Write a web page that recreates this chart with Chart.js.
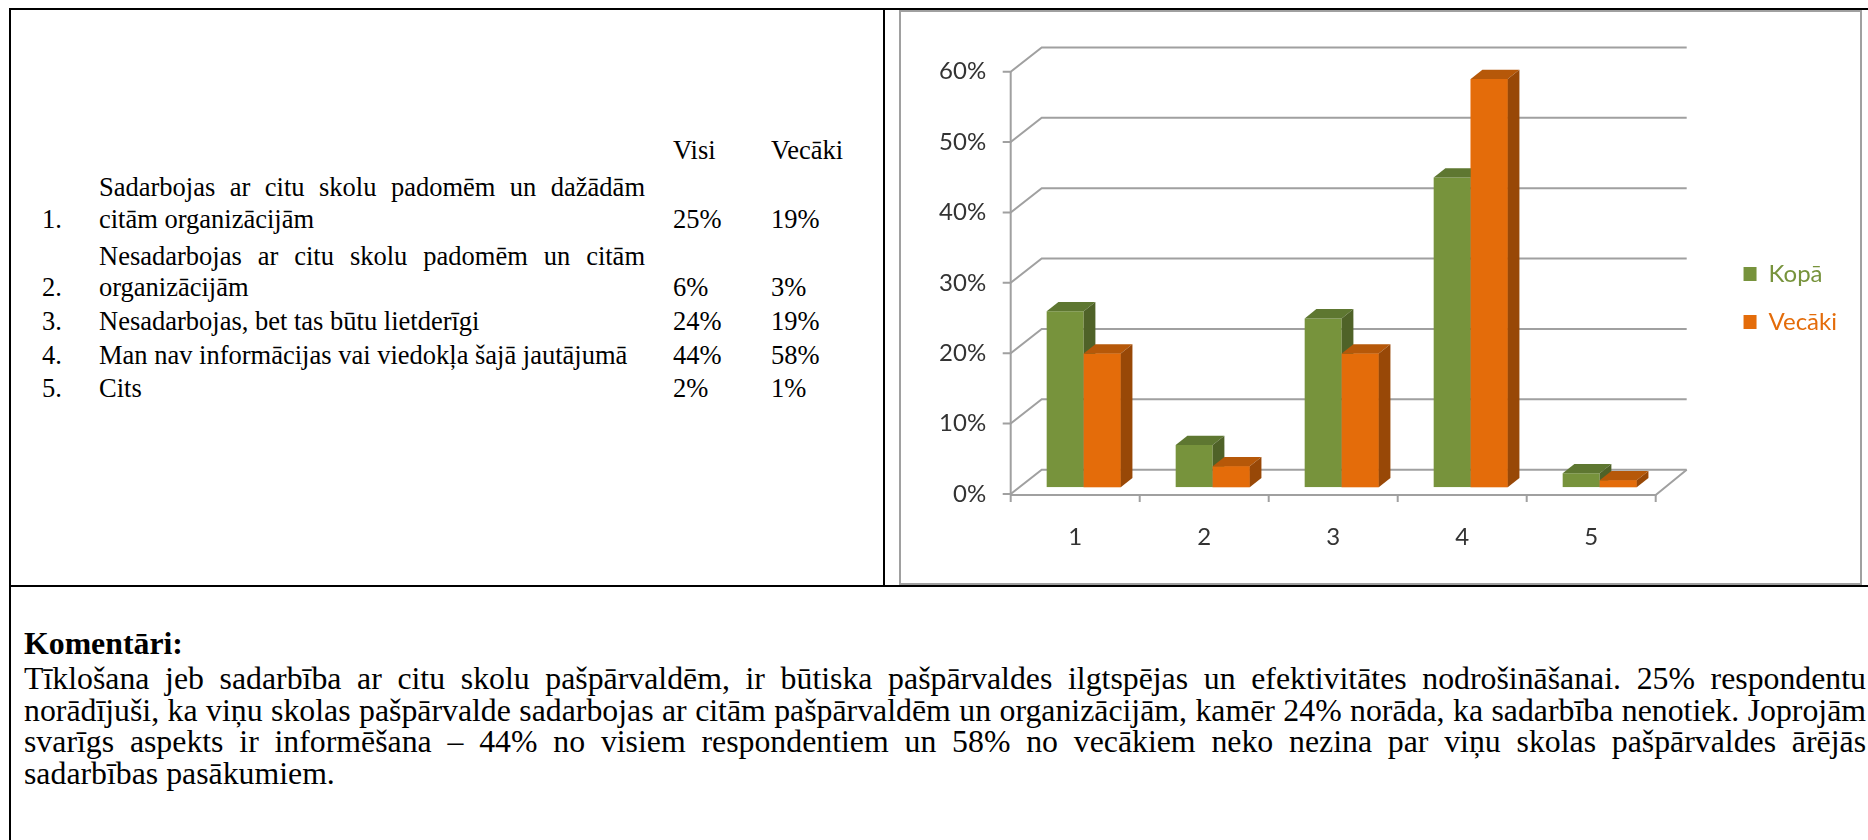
<!DOCTYPE html>
<html><head><meta charset="utf-8">
<script src="https://cdn.jsdelivr.net/npm/chart.js@4/dist/chart.umd.min.js"></script>
<style>
html,body{margin:0;padding:0;background:#fff;width:1868px;height:840px;overflow:hidden;position:relative;}
.ln{position:absolute;background:#000;}
.t{position:absolute;font-family:"Liberation Serif","Times New Roman",serif;font-size:26.5px;line-height:34px;height:34px;white-space:nowrap;color:#000;}
.j{text-align:justify;text-align-last:justify;white-space:normal;overflow:visible;}
.p{position:absolute;left:24px;width:1842px;font-family:"Liberation Serif","Times New Roman",serif;font-size:31.8px;line-height:32px;white-space:nowrap;color:#000;}
.pj{text-align:justify;text-align-last:justify;white-space:normal;}
#frame{position:absolute;left:899px;top:10px;width:963px;height:575px;box-sizing:border-box;border:2px solid #a0a0a0;}
#c{position:absolute;left:901px;top:12px;width:959px;height:572px;}
</style></head><body>
<div class="ln" style="left:9px;top:8px;width:1859px;height:2px"></div>
<div class="ln" style="left:9px;top:8px;width:2px;height:832px"></div>
<div class="ln" style="left:883px;top:8px;width:2px;height:579px"></div>
<div class="ln" style="left:9px;top:585px;width:1859px;height:2px"></div>
<div id="frame"></div>
<canvas id="c" width="959" height="572"></canvas>
<div id="tbl"></div>
<div id="com"></div>
<script>
// ---- data ----
const categories = ['1', '2', '3', '4', '5'];
const seriesNames = ['Kopā', 'Vecāki'];
const kopa = [25, 6, 24, 44, 2];
const vecaki = [19, 3, 19, 58, 1];
const yTicks = [0, 10, 20, 30, 40, 50, 60];
const tableHeader = ['Visi', 'Vecāki'];
const rowTexts = [
  ['Sadarbojas ar citu skolu padomēm un dažādām', 'citām organizācijām'],
  ['Nesadarbojas ar citu skolu padomēm un citām', 'organizācijām'],
  ['Nesadarbojas, bet tas būtu lietderīgi'],
  ['Man nav informācijas vai viedokļa šajā jautājumā'],
  ['Cits']
];
const commentTitle = 'Komentāri:';
const commentLines = [
  'Tīklošana jeb sadarbība ar citu skolu pašpārvaldēm, ir būtiska pašpārvaldes ilgtspējas un efektivitātes nodrošināšanai. 25% respondentu',
  'norādījuši, ka viņu skolas pašpārvalde sadarbojas ar citām pašpārvaldēm un organizācijām, kamēr 24% norāda, ka sadarbība nenotiek. Joprojām',
  'svarīgs aspekts ir informēšana – 44% no visiem respondentiem un 58% no vecākiem neko nezina par viņu skolas pašpārvaldes ārējās',
  'sadarbības pasākumiem.'
];

// ---- layout (positions) ----
const rowLineY = [[188, 220], [257, 288], [322], [356], [389]];
const headerY = 151;
const colNum = 42, colText = 99, colVisi = 673, colVec = 771, textRight = 645;

function addText(parent, txt, x, yc, cls, extra) {
  const d = document.createElement('div');
  d.className = cls;
  d.textContent = txt;
  d.style.left = x + 'px';
  d.style.top = (yc - 18) + 'px';
  if (extra) Object.assign(d.style, extra);
  parent.appendChild(d);
  return d;
}
const tbl = document.getElementById('tbl');
addText(tbl, tableHeader[0], colVisi, headerY, 't');
addText(tbl, tableHeader[1], colVec, headerY, 't');
rowTexts.forEach((lines, i) => {
  const ys = rowLineY[i];
  lines.forEach((ln, k) => {
    const justify = k < lines.length - 1;
    addText(tbl, ln, colText, ys[k], justify ? 't j' : 't', justify ? {width: (textRight - colText) + 'px'} : null);
  });
  const yl = ys[ys.length - 1];
  addText(tbl, (i + 1) + '.', colNum, yl, 't');
  addText(tbl, kopa[i] + '%', colVisi, yl, 't');
  addText(tbl, vecaki[i] + '%', colVec, yl, 't');
});

const com = document.getElementById('com');
const comTop = 628, bodyTop = 663, bodyLH = 31.5;
const h = document.createElement('div');
h.className = 'p'; h.style.top = comTop + 'px'; h.style.fontWeight = 'bold'; h.textContent = commentTitle;
com.appendChild(h);
commentLines.forEach((ln, i) => {
  const d = document.createElement('div');
  d.className = i < commentLines.length - 1 ? 'p pj' : 'p';
  d.style.top = (bodyTop + bodyLH * i) + 'px';
  d.textContent = ln;
  com.appendChild(d);
  if (d.offsetHeight > 40) { d.style.whiteSpace = 'nowrap'; }
});

// ---- chart ----
const CW = 959, CH = 572;
const AREA = {left: 118.2, right: 763.2, top: 53, bottom: 475.3};
const PAD_R = 13;
const FRONT = {dx: -8.5, dy: 6.7};
const BACK = {dx: 22.5, dy: -17.6};
const SIDE = {dx: 11.7, dy: -9.3};
const GRID = '#a0a0a0';
const FONT = 'Lato, "Open Sans", sans-serif';

const wall3d = {
  id: 'wall3d',
  beforeDatasetsDraw(chart) {
    const {ctx, scales: {x, y}} = chart;
    ctx.save();
    ctx.strokeStyle = GRID; ctx.lineWidth = 2;
    const y0 = y.getPixelForValue(0);
    const xl = x.getPixelForValue(-0.5), xr = x.getPixelForValue(categories.length - 0.5);
    const line = (pts) => { ctx.beginPath(); ctx.moveTo(pts[0][0], pts[0][1]); for (let i = 1; i < pts.length; i++) ctx.lineTo(pts[i][0], pts[i][1]); ctx.stroke(); };
    y.ticks.forEach(t => {
      const py = y.getPixelForValue(t.value);
      line([[xl + FRONT.dx - 8, py + FRONT.dy], [xl + FRONT.dx, py + FRONT.dy], [xl + BACK.dx, py + BACK.dy], [xr + BACK.dx, py + BACK.dy]]);
    });
    const yTop = y.getPixelForValue(y.max);
    line([[xl + FRONT.dx, yTop + FRONT.dy], [xl + FRONT.dx, y0 + FRONT.dy]]);
    line([[xl + FRONT.dx, y0 + FRONT.dy + 1], [xr + FRONT.dx, y0 + FRONT.dy + 1], [xr + BACK.dx, y0 + BACK.dy]]);
    for (let i = 0; i <= categories.length; i++) {
      const px = x.getPixelForValue(i - 0.5) + FRONT.dx;
      line([[px, y0 + FRONT.dy], [px, y0 + FRONT.dy + 8]]);
    }
    ctx.restore();
  }
};

const bars3d = {
  id: 'bars3d',
  afterDatasetsDraw(chart) {
    const ctx = chart.ctx;
    const dss = chart.data.datasets;
    const metas = dss.map((d, i) => chart.getDatasetMeta(i));
    const poly = (pts) => { ctx.beginPath(); ctx.moveTo(pts[0][0], pts[0][1]); for (let i = 1; i < pts.length; i++) ctx.lineTo(pts[i][0], pts[i][1]); ctx.closePath(); ctx.fill(); };
    ctx.save();
    for (let k = 0; k < categories.length; k++) {
      metas.forEach((m, di) => {
        const el = m.data[k];
        if (di > 0) el.draw(ctx);
        const p = el.getProps(['x', 'y', 'base', 'width'], true);
        const l = p.x - p.width / 2, r = p.x + p.width / 2;
        ctx.fillStyle = dss[di].topColor;
        poly([[l, p.y], [l + SIDE.dx, p.y + SIDE.dy], [r + SIDE.dx, p.y + SIDE.dy], [r, p.y]]);
        ctx.fillStyle = dss[di].sideColor;
        poly([[r, p.y], [r + SIDE.dx, p.y + SIDE.dy], [r + SIDE.dx, p.base + SIDE.dy], [r, p.base]]);
      });
    }
    ctx.restore();
  }
};

Chart.defaults.font.family = FONT;
Chart.defaults.font.size = 24;

new Chart(document.getElementById('c'), {
  type: 'bar',
  data: {
    labels: categories,
    datasets: [
      {label: seriesNames[0], data: kopa, xAxisID: 'x', yAxisID: 'y', backgroundColor: '#77933C', topColor: '#5E7731', sideColor: '#4F6228', borderWidth: 0},
      {label: seriesNames[1], data: vecaki, xAxisID: 'x', yAxisID: 'y', backgroundColor: '#E46C0A', topColor: '#B65809', sideColor: '#984807', borderWidth: 0}
    ]
  },
  options: {
    responsive: false,
    animation: false,
    devicePixelRatio: 1,
    categoryPercentage: 0.574,
    barPercentage: 1.0,
    layout: {padding: {top: 0, bottom: 0, left: 0, right: PAD_R}},
    plugins: {
      tooltip: {enabled: false},
      legend: {
        position: 'right',
        labels: {
          boxWidth: 13, boxHeight: 14, padding: 24,
          font: {size: 24, family: FONT},
          generateLabels(chart) {
            const items = Chart.defaults.plugins.legend.labels.generateLabels(chart);
            items.forEach(it => {
              it.fontColor = chart.data.datasets[it.datasetIndex].backgroundColor;
              it.lineWidth = 0;
            });
            return items.sort((a, b) => a.datasetIndex - b.datasetIndex);
          }
        }
      }
    },
    scales: {
      x: {
        type: 'category', offset: true,
        grid: {display: false, drawTicks: false}, border: {display: false},
        ticks: {padding: 35.3, labelOffset: FRONT.dx, color: '#333', font: {size: 24}},
        afterFit(s) { s.height = CH - AREA.bottom; }
      },
      y: {
        type: 'linear', min: yTicks[0], max: yTicks[yTicks.length - 1],
        grid: {display: false, drawTicks: false}, border: {display: false},
        afterBuildTicks(s) { s.ticks = yTicks.map(v => ({value: v})); },
        ticks: {padding: 33, labelOffset: FRONT.dy, color: '#333', font: {size: 24}, callback: v => v + '%'},
        afterFit(s) { s.width = AREA.left; }
      },
      gapTop: {
        type: 'linear', position: 'top', display: true,
        grid: {display: false, drawTicks: false}, border: {display: false},
        ticks: {display: false},
        afterFit(s) { s.height = AREA.top; }
      },
      gap: {
        type: 'linear', position: 'right', display: true,
        grid: {display: false, drawTicks: false}, border: {display: false},
        ticks: {display: false},
        afterFit(s) { s.width = Math.max(0, CW - PAD_R - AREA.right - (s.chart.legend ? s.chart.legend.width : 130)); }
      }
    }
  },
  plugins: [wall3d, bars3d]
});
</script>
</body></html>
